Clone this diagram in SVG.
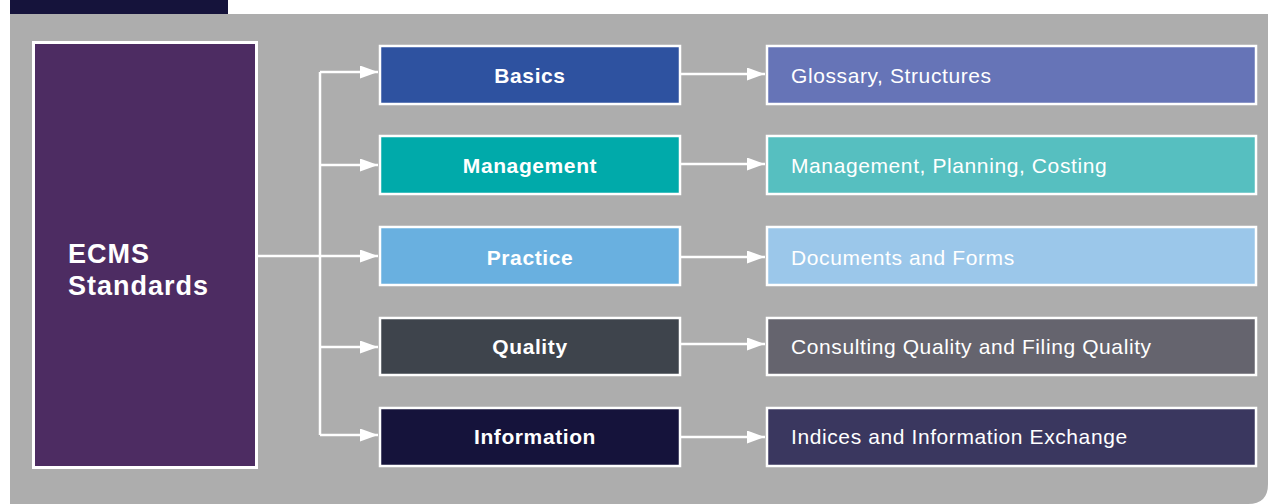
<svg xmlns="http://www.w3.org/2000/svg" width="1268" height="504" viewBox="0 0 1268 504">
<defs>
<marker id="ah" markerUnits="userSpaceOnUse" markerWidth="19" markerHeight="14" refX="18" refY="6.5" orient="auto">
<path d="M0,0 L18,6.5 L0,13 Z" fill="#ffffff"/>
</marker>
<style>
.box{stroke:#ffffff;stroke-width:2.5}
.lbl{font-family:"Liberation Sans",Arial,sans-serif;font-weight:bold;font-size:21px;fill:#ffffff;text-anchor:middle;letter-spacing:0.6px}
.desc{font-family:"Liberation Sans",Arial,sans-serif;font-size:21px;fill:#ffffff;letter-spacing:0.6px}
.big{font-family:"Liberation Sans",Arial,sans-serif;font-weight:bold;font-size:27px;fill:#ffffff;letter-spacing:1px}
.con{stroke:#ffffff;stroke-width:2.5;fill:none}
</style>
</defs>
<rect x="0" y="0" width="1268" height="504" fill="#ffffff"/>
<rect x="10" y="0" width="218" height="14" fill="#15133B"/>
<path d="M10,14 H1268 V484 Q1268,504 1248,504 H10 Z" fill="#ADADAD"/>

<g id="connectors">
<path class="con" d="M258,256 H320"/>
<path class="con" d="M320,72 V435"/>
<path class="con" d="M320,72 H378" marker-end="url(#ah)"/>
<path class="con" d="M320,165 H378" marker-end="url(#ah)"/>
<path class="con" d="M320,256 H378" marker-end="url(#ah)"/>
<path class="con" d="M320,347 H378" marker-end="url(#ah)"/>
<path class="con" d="M320,435 H378" marker-end="url(#ah)"/>
<path class="con" d="M681,74 H765" marker-end="url(#ah)"/>
<path class="con" d="M681,164 H765" marker-end="url(#ah)"/>
<path class="con" d="M681,257 H765" marker-end="url(#ah)"/>
<path class="con" d="M681,344 H765" marker-end="url(#ah)"/>
<path class="con" d="M681,437 H765" marker-end="url(#ah)"/>
</g>

<g id="ecms">
<rect x="33.5" y="42.5" width="223" height="425" fill="#4D2C62" stroke="#ffffff" stroke-width="3"/>
<text class="big" x="68" y="263">ECMS</text>
<text class="big" x="68" y="295">Standards</text>
</g>

<g id="basics">
<rect class="box" x="380" y="46" width="300" height="58" fill="#2E52A0"/>
<text class="lbl" x="530" y="83">Basics</text>
</g>
<g id="glossary">
<rect class="box" x="767" y="46" width="489" height="58" fill="#6674B7"/>
<text class="desc" x="791" y="83">Glossary, Structures</text>
</g>

<g id="management">
<rect class="box" x="380" y="136" width="300" height="58" fill="#00AAAA"/>
<text class="lbl" x="530" y="173">Management</text>
</g>
<g id="management-desc">
<rect class="box" x="767" y="136" width="489" height="58" fill="#56BFC0"/>
<text class="desc" x="791" y="173">Management, Planning, Costing</text>
</g>

<g id="practice">
<rect class="box" x="380" y="227" width="300" height="58" fill="#69B0E0"/>
<text class="lbl" x="530" y="265">Practice</text>
</g>
<g id="practice-desc">
<rect class="box" x="767" y="227" width="489" height="58" fill="#9BC7EA"/>
<text class="desc" x="791" y="265">Documents and Forms</text>
</g>

<g id="quality">
<rect class="box" x="380" y="318" width="300" height="57" fill="#3E444C"/>
<text class="lbl" x="530" y="354">Quality</text>
</g>
<g id="quality-desc">
<rect class="box" x="767" y="318" width="489" height="57" fill="#65646E"/>
<text class="desc" x="791" y="354">Consulting Quality and Filing Quality</text>
</g>

<g id="information">
<rect class="box" x="380" y="408" width="300" height="58" fill="#15133B"/>
<text class="lbl" x="535" y="444">Information</text>
</g>
<g id="information-desc">
<rect class="box" x="767" y="408" width="489" height="58" fill="#3A375F"/>
<text class="desc" x="791" y="444">Indices and Information Exchange</text>
</g>
</svg>
